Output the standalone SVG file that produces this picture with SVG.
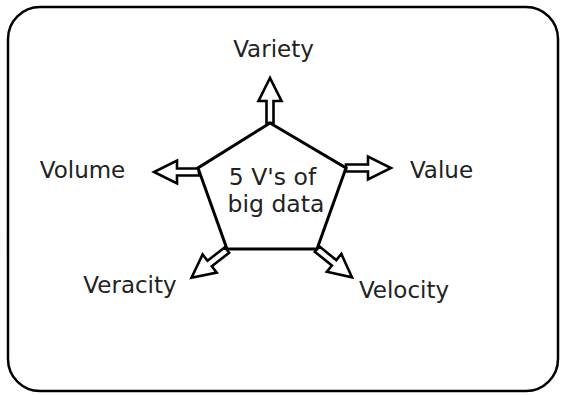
<svg xmlns="http://www.w3.org/2000/svg" width="564" height="395" viewBox="0 0 564 395">
<style>
  .lbl { font-family: "DejaVu Sans", Verdana, sans-serif; font-size: 23px; fill: #222; text-anchor: middle; }
  .arr { fill: #fff; stroke: #000; stroke-width: 2.6; stroke-linejoin: miter; }
  .pent { fill: #fff; stroke: #000; stroke-width: 3; stroke-linejoin: miter; }
</style>
<defs>
  <path id="blockArrow" class="arr" d="M0,-3.5 H22 V-11.5 L45,0 L22,11.5 V3.5 H0 Z"/>
</defs>
<rect x="8" y="7" width="550" height="384" rx="32" ry="32" fill="#fff" stroke="#000" stroke-width="2.5"/>
<g id="connectors">
  <use href="#blockArrow" transform="translate(270,123) rotate(-90)"/>
  <use href="#blockArrow" transform="translate(346,168)"/>
  <use href="#blockArrow" transform="translate(199,172) rotate(180)"/>
  <use href="#blockArrow" transform="translate(227,250) rotate(142)"/>
  <use href="#blockArrow" transform="translate(317,249) rotate(39)"/>
</g>
<g id="center">
  <polygon class="pent" points="270,123 346,168 317,249 227,249 198,168"/>
  <text class="lbl" x="272.5" y="185" style="font-size:23.5px">5 V's of</text>
  <text class="lbl" x="276" y="212" style="font-size:23.5px">big data</text>
</g>
<g id="variety"><text class="lbl" x="273.5" y="57">Variety</text></g>
<g id="value"><text class="lbl" x="441.5" y="178">Value</text></g>
<g id="volume"><text class="lbl" x="82.5" y="178">Volume</text></g>
<g id="veracity"><text class="lbl" x="130" y="293">Veracity</text></g>
<g id="velocity"><text class="lbl" x="404" y="298">Velocity</text></g>
</svg>
